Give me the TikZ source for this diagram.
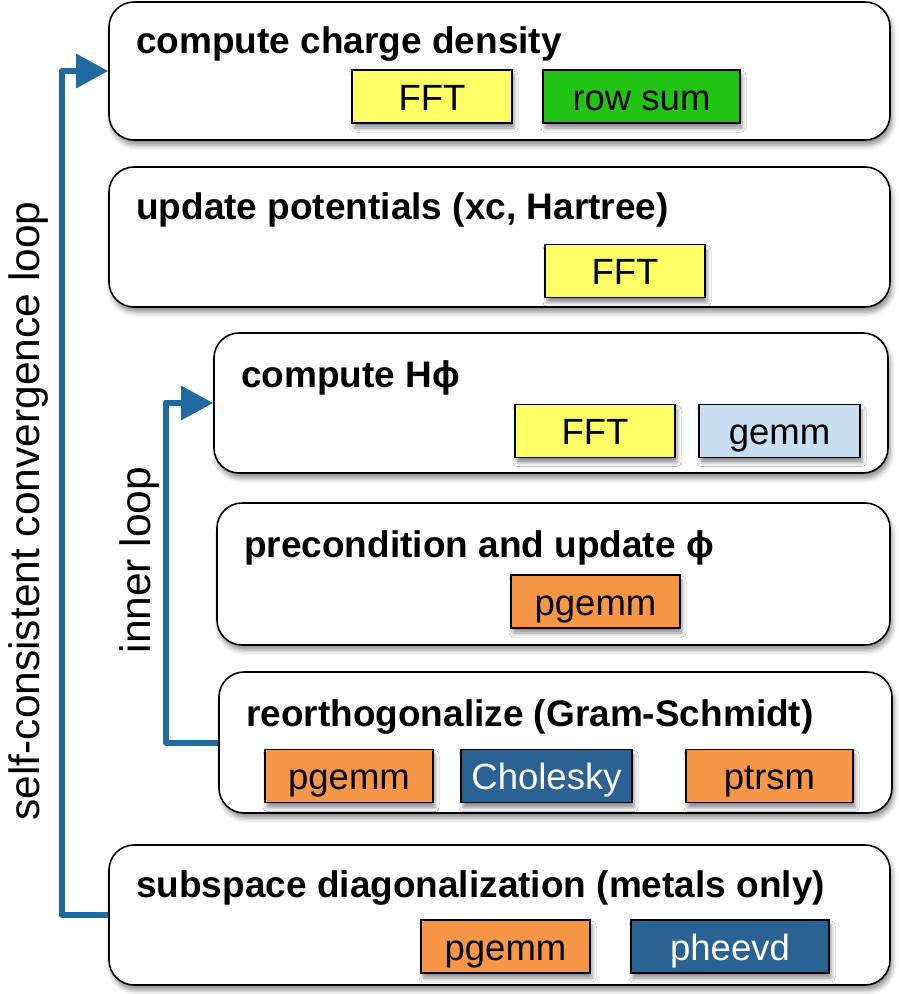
\documentclass[tikz,border=0pt]{standalone}
\usepackage{fontspec}
\setmainfont{Liberation Sans}
\usetikzlibrary{arrows.meta,shadows.blur}

\definecolor{loopblue}{HTML}{216A9F}
\definecolor{fftyellow}{HTML}{FFFF66}
\definecolor{sumgreen}{HTML}{22C414}
\definecolor{gemmblue}{HTML}{C8DEF1}
\definecolor{pblasorange}{HTML}{F79646}
\definecolor{lapackblue}{HTML}{2A6293}

\tikzset{
  x=1pt, y=-1pt,
  stage/.style={draw=black, line width=1.6pt, fill=white, rounded corners=25pt,
    blur shadow={shadow xshift=2pt, shadow yshift=-5pt, shadow blur radius=5pt, shadow opacity=45}},
  stagetitle/.style={anchor=base west, inner sep=0pt, font=\fontsize{37}{40}\selectfont\bfseries},
  kernel/.style={draw=black, line width=1.4pt, minimum height=53pt, inner sep=0pt,
    text height=27pt, text depth=0pt,
    font=\fontsize{36.5}{40}\selectfont,
    blur shadow={shadow xshift=2pt, shadow yshift=-5pt, shadow blur radius=4pt, shadow opacity=45}},
  lightk/.style={kernel, text=black},
  darkk/.style={kernel, fill=lapackblue, text=white},
  loop/.style={draw=loopblue, line width=6pt, line join=round,
    -{Triangle[length=32pt, width=33pt]}},
  looplabel/.style={rotate=90, inner sep=0pt, font=\fontsize{42.5}{46}\selectfont}
}

\begin{document}
\begin{tikzpicture}
\useasboundingbox (0,0) rectangle (898,994);

% stage frames
\node[stage, minimum width=781pt, minimum height=138pt] (b1) at (499.5,71) {};
\node[stage, minimum width=781pt, minimum height=140pt] (b2) at (499.5,237) {};
\node[stage, minimum width=674pt, minimum height=140pt] (b3) at (551,403) {};
\node[stage, minimum width=673pt, minimum height=142pt] (b4) at (553.5,574) {};
\node[stage, minimum width=673pt, minimum height=141pt] (b5) at (555.5,742.5) {};
\node[stage, minimum width=781pt, minimum height=140pt] (b6) at (499.5,915) {};

% stage titles
\node[stagetitle] (t1) at (136,53) {compute charge density};
\node[stagetitle] (t2) at (136,219) {update potentials (xc, Hartree)};
\node[stagetitle] (t3) at (241,387) {compute Hϕ};
\node[stagetitle] (t4) at (244,557) {precondition and update ϕ};
\node[stagetitle] (t5) at (246,726) {reorthogonalize (Gram-Schmidt)};
\node[stagetitle] (t6) at (136,897) {subspace diagonalization (metals only)};

% kernels used in each stage
\node[lightk, fill=fftyellow, minimum width=160pt] (k1a) at (432,96.5) {FFT};
\node[lightk, fill=sumgreen, minimum width=197pt] (k1b) at (641.5,96.5) {row sum};
\node[lightk, fill=fftyellow, minimum width=160pt] (k2a) at (625,271) {FFT};
\node[lightk, fill=fftyellow, minimum width=160pt] (k3a) at (595,431) {FFT};
\node[lightk, fill=gemmblue, minimum width=161pt] (k3b) at (779.5,431) {gemm};
\node[lightk, fill=pblasorange, minimum width=169pt] (k4a) at (595.5,601.5) {pgemm};
\node[lightk, fill=pblasorange, minimum width=168pt] (k5a) at (349,776) {pgemm};
\node[darkk, minimum width=171pt] (k5b) at (546.5,776) {Cholesky};
\node[lightk, fill=pblasorange, minimum width=167pt] (k5c) at (769.5,776) {ptrsm};
\node[lightk, fill=pblasorange, minimum width=169pt] (k6a) at (505.5,946.5) {pgemm};
\node[darkk, minimum width=198pt] (k6b) at (730,946.5) {pheevd};

% loops
\coordinate (outerx) at (61.5,0);
\coordinate (innerx) at (166,0);
\draw[loop] (b6.west) -| (outerx |- b1.west) -- (b1.west);
\draw[loop] (b5.west) -| (innerx |- b3.west) -- (b3.west);

\node[looplabel] (l1) at (29,511) {self-consistent convergence loop};
\node[looplabel] (l2) at (140,560) {inner loop};
\end{tikzpicture}
\end{document}
